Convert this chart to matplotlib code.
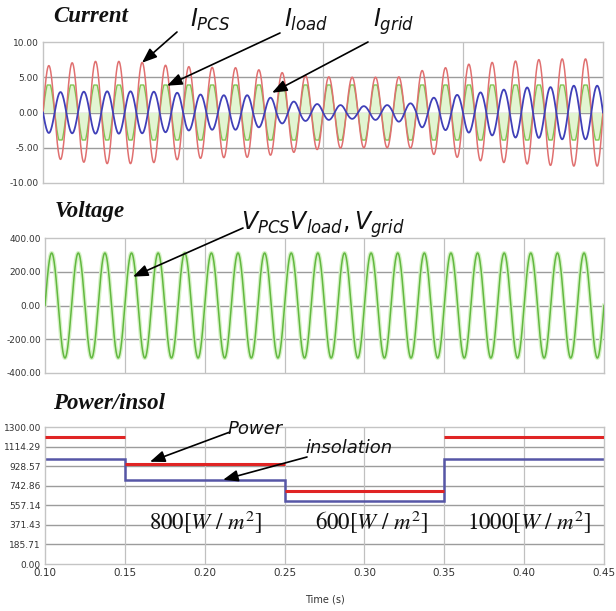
import numpy as np
import matplotlib
matplotlib.use("Agg")
import matplotlib.pyplot as plt

# ---------------- data ----------------
FREQ = 60.0  # Hz
# current panel spans 0.05 .. 0.45 s (24 cycles), amplitudes per cycle [A]
cur_t_start, cur_t_end = 0.05, 0.45
i_pcs_amp = [6.65, 7.05, 7.25, 7.25, 7.1, 6.7, 6.5, 6.4, 6.35, 6.05, 5.65, 5.25,
             5.05, 5.0, 5.0, 5.05, 5.95, 6.35, 6.85, 7.1, 7.3, 7.5, 7.6, 7.6]
i_grid_amp = [2.9, 2.95, 3.0, 3.0, 2.95, 2.8, 2.55, 2.45, 2.45, 2.1, 1.55, 1.2,
              1.05, 0.9, 1.05, 1.3, 2.1, 2.5, 2.85, 3.25, 3.55, 3.6, 3.8, 3.8]
i_load_peak = 3.9        # flat-topped load current peak [A]
i_load_shape = 4.3       # underlying sine amplitude before clipping [A]

# voltage panel 0.10 .. 0.45 s
volt_t_start, volt_t_end = 0.10, 0.45
v_peak = 311.0

# power / insolation panel: step segments
seg_edges = [0.10, 0.15, 0.25, 0.35, 0.45]
power_vals = [1205, 950, 695, 1205]
insol_vals = [1000, 800, 600, 1000]
seg_labels = ["800", "600", "1000"]

cur_yticks = [-10, -5, 0, 5, 10]
volt_yticks = [-400, -200, 0, 200, 400]
pow_yticks = [0.00, 185.71, 371.43, 557.14, 742.86, 928.57, 1114.29, 1300.00]
time_ticks = [0.10, 0.15, 0.20, 0.25, 0.30, 0.35, 0.40, 0.45]
cur_vgrid = [0.15, 0.25, 0.35]

# ---------------- figure ----------------
W, H = 616, 611
fig = plt.figure(figsize=(W / 100, H / 100), dpi=100, facecolor="white")

def ax_rect(l, t, r, b):
    return [l / W, 1 - b / H, (r - l) / W, (b - t) / H]

def fp(x, y):
    return (x / W, 1 - y / H)

TICKFONT = dict(family=["Liberation Sans Narrow", "DejaVu Sans"], size=6.5, color="#333333")
FRAME = "#c4c4c4"
HGRID = "#9c9c9c"
VGRID = "#c0c0c0"

def style(ax):
    for s in ax.spines.values():
        s.set_color(FRAME)
        s.set_linewidth(1.0)
    ax.tick_params(length=0, pad=3)
    for lab in ax.get_yticklabels() + ax.get_xticklabels():
        lab.set_fontfamily(TICKFONT["family"])
        lab.set_fontsize(TICKFONT["size"])
        lab.set_color(TICKFONT["color"])

# ---- current panel ----
ax1 = fig.add_axes(ax_rect(43, 42, 603, 183))
t = np.linspace(cur_t_start, cur_t_end, 6000)
k = np.clip(((t - cur_t_start) * FREQ).astype(int), 0, len(i_pcs_amp) - 1)
s = np.sin(2 * np.pi * FREQ * t)
i_pcs = np.asarray(i_pcs_amp)[k] * s
i_grid = -np.asarray(i_grid_amp)[k] * s
i_load = np.clip(i_load_shape * s, -i_load_peak, i_load_peak)
ax1.fill_between(t, 0, i_load, color="#e2f5d2", lw=0, zorder=1)
ax1.plot(t, i_pcs, color="#e07070", lw=1.1, zorder=3)
ax1.plot(t, i_load, color="#80c652", lw=1.0, zorder=2)
ax1.plot(t, i_grid, color="#4040b8", lw=1.3, zorder=4)
ax1.set_xlim(cur_t_start, cur_t_end)
ax1.set_ylim(-10, 10)
ax1.set_yticks(cur_yticks)
ax1.set_yticklabels([f"{v:.2f}" for v in cur_yticks])
ax1.set_xticks([])
for v in cur_yticks[1:-1]:
    ax1.axhline(v, color=HGRID, lw=1.0, zorder=0)
for v in cur_vgrid:
    ax1.axvline(v, color=VGRID, lw=0.9, zorder=0)
style(ax1)

# ---- voltage panel ----
ax2 = fig.add_axes(ax_rect(45, 238, 604, 373))
tv = np.linspace(volt_t_start, volt_t_end, 6000)
v = v_peak * np.sin(2 * np.pi * FREQ * tv)
ax2.plot(tv, v, color="#d6f2c6", lw=3.0, zorder=2)
ax2.plot(tv, v, color="#62b840", lw=1.1, zorder=3)
ax2.set_xlim(volt_t_start, volt_t_end)
ax2.set_ylim(-400, 400)
ax2.set_yticks(volt_yticks)
ax2.set_yticklabels([f"{v:.2f}" for v in volt_yticks])
ax2.set_xticks([])
for yv in volt_yticks[1:-1]:
    ax2.axhline(yv, color=HGRID, lw=1.0, zorder=0)
for xv in time_ticks[1:-1]:
    ax2.axvline(xv, color=VGRID, lw=0.9, zorder=0)
style(ax2)

# ---- power / insolation panel ----
ax3 = fig.add_axes(ax_rect(45, 427, 604, 564))
ax3.hlines(power_vals, seg_edges[:-1], seg_edges[1:], color="#e02424", lw=2.2, zorder=3)
ax3.stairs(insol_vals, seg_edges, color="#5656a6", lw=1.8, zorder=2, baseline=None)
ax3.set_xlim(seg_edges[0], seg_edges[-1])
ax3.set_ylim(0, 1300)
ax3.set_yticks(pow_yticks)
ax3.set_yticklabels([f"{v:.2f}" for v in pow_yticks])
ax3.set_xticks(time_ticks)
ax3.set_xticklabels([f"{v:.2f}" for v in time_ticks])
ax3.tick_params(axis="x", pad=14)
for yv in pow_yticks[1:-1]:
    ax3.axhline(yv, color=HGRID, lw=1.0, zorder=0)
for xv in time_ticks[1:-1]:
    ax3.axvline(xv, color=VGRID, lw=0.9, zorder=0)
style(ax3)
for lab in ax3.get_xticklabels():
    lab.set_fontsize(7.5)
fig.text(*fp(325, 600), "Time (s)", ha="center", va="center",
         fontfamily=TICKFONT["family"], fontsize=7, color="#333333")

# segment labels
seg_centers = [205, 371, 529]
for lab, cx in zip(seg_labels, seg_centers):
    fig.text(*fp(cx, 522), rf"${lab}[W\ /\ m^2]$", ha="center", va="center",
             fontsize=16.5, math_fontfamily="stix", color="#111111")

# ---- titles ----
TITLE = dict(fontfamily=["Liberation Serif", "DejaVu Serif"], fontweight="bold",
             fontstyle="italic", fontsize=16.5, color="#111111", ha="left", va="baseline")
fig.text(*fp(53, 22), "Current", **TITLE)
fig.text(*fp(55, 217), "Voltage", **TITLE)
fig.text(*fp(53, 409), "Power/insol", **TITLE)

# ---- annotations ----
LAB = dict(fontsize=17, math_fontfamily="dejavusans", color="#111111", ha="left", va="baseline")
fig.text(*fp(190, 27), r"$I_{PCS}$", **LAB)
fig.text(*fp(284, 27), r"$I_{load}$", **LAB)
fig.text(*fp(373, 27), r"$I_{grid}$", **LAB)
fig.text(*fp(241, 230), r"$V_{PCS}V_{load},V_{grid}$", **LAB)
fig.text(*fp(228, 434), "Power", fontsize=13, fontstyle="italic", color="#111111",
         ha="left", va="baseline")
fig.text(*fp(305, 453), "insolation", fontsize=13, fontstyle="italic", color="#111111",
         ha="left", va="baseline")

ARROW = dict(arrowstyle="-|>,head_length=0.9,head_width=0.35", color="black", lw=1.2,
             shrinkA=0, shrinkB=0)

def arrow(ax, tip, tail_px):
    ax.annotate("", xy=tip, xycoords="data", xytext=fp(*tail_px),
                textcoords="figure fraction", arrowprops=ARROW, annotation_clip=False)

arrow(ax1, (0.1207, 7.05), (177, 32))
arrow(ax1, (0.1386, 3.8), (280, 33))
arrow(ax1, (0.2136, 2.8), (368, 42))
arrow(ax2, (0.1551, 171), (243, 228))
arrow(ax3, (0.1657, 970), (230, 432))
arrow(ax3, (0.2115, 799), (307, 457))

fig.savefig("out.png", dpi=100, facecolor="white")
